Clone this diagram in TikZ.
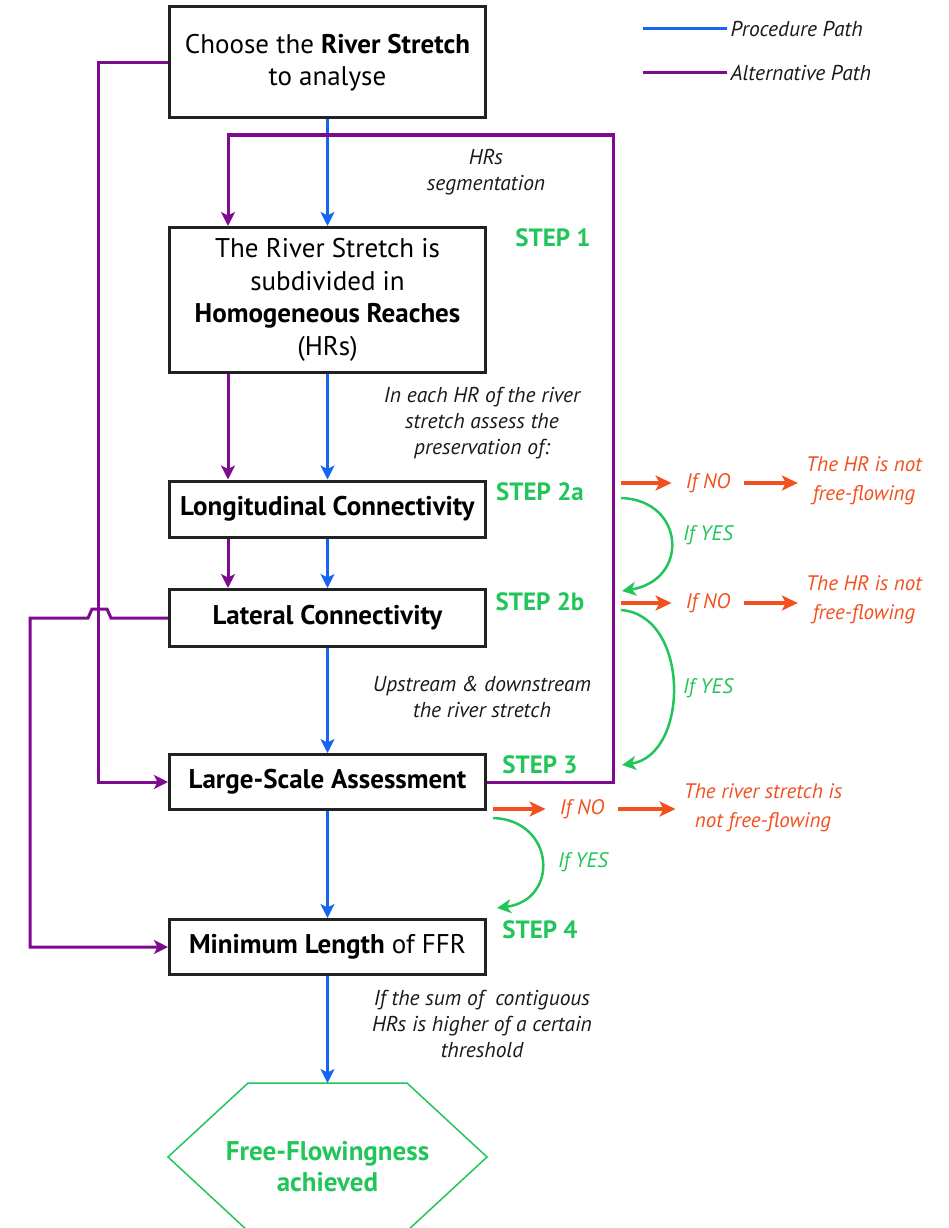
\documentclass[tikz,border=0pt]{standalone}
\usepackage{fontspec}
\setmainfont{PT Sans}
\usetikzlibrary{calc,positioning,arrows.meta}
\definecolor{procblue}{HTML}{1466F0}
\definecolor{altpurple}{HTML}{7D0A8F}
\definecolor{stepgreen}{HTML}{22C55A}
\definecolor{nored}{HTML}{F2501E}
\definecolor{boxgray}{HTML}{222222}
\definecolor{annotgray}{HTML}{1A1A1A}

\begin{document}
\begin{tikzpicture}[x=1pt, y=-1pt,
    stage/.style={draw=boxgray, line width=3pt, minimum width=316pt, align=center, inner sep=0pt,
      font=\fontsize{27}{32.5}\selectfont},
    proc/.style={draw=procblue, line width=3pt, -{Stealth[length=14pt,width=14pt,inset=3.5pt]}},
    alt/.style={draw=altpurple, line width=3pt, -{Stealth[length=14pt,width=14pt,inset=3.5pt]}},
    yes/.style={draw=stepgreen, line width=2.5pt, -{Stealth[length=14pt,width=14pt,inset=4pt]}},
    no/.style={draw=nored, line width=3.5pt, -{Stealth[length=16pt,width=15pt,inset=4pt]}},
    annot/.style={align=center, text=annotgray, font=\itshape\fontsize{21.5}{26}\selectfont},
    steplabel/.style={text=stepgreen, font=\bfseries\fontsize{25}{28}\selectfont},
    yeslabel/.style={text=stepgreen, font=\itshape\fontsize{21}{26}\selectfont},
    nolabel/.style={text=nored, inner xsep=14pt, font=\itshape\fontsize{21}{26}\selectfont},
    result/.style={text=nored, align=center, inner xsep=8pt, font=\itshape\fontsize{21}{29}\selectfont}]
\useasboundingbox (0,0) rectangle (949,1228);

\node[stage, minimum height=111pt] (choose) at (327.5,62.5) {Choose the \textbf{River Stretch}\\to analyse};
\node[stage, minimum height=145pt] (subdiv) at (327.5,300) {The River Stretch is\\subdivided in\\\textbf{Homogeneous Reaches}\\(HRs)};
\node[stage, minimum height=56pt] (longit) at (327.5,509) {\textbf{Longitudinal Connectivity}};
\node[stage, minimum height=57pt] (lateral) at (327.5,618) {\textbf{Lateral Connectivity}};
\node[stage, minimum height=55pt] (largescale) at (327.5,782) {\textbf{Large-Scale Assessment}};
\node[stage, minimum height=55pt] (minlen) at (327.5,947) {\textbf{Minimum Length} of FFR};

\coordinate (hextop) at (327.5,1083);
\draw[stepgreen, line width=1.5pt] (248,1083) -- (407,1083) -- (487,1157) -- (407,1231) -- (248,1231) -- (168,1157) -- cycle;
\node[text=stepgreen, align=center, font=\bfseries\fontsize{27}{31}\selectfont] (ffa) at (327.5,1167) {Free-Flowingness\\achieved};

\node[annot] (hrseg) at (486,172) {HRs\\segmentation};
\node[annot] (assess) at (482,423) {In each HR of the river\\stretch assess the\\preservation of:};
\node[annot] (updown) at (482,697) {Upstream \& downstream\\the river stretch};
\node[annot] (sumhr) at (482,1024) {If the sum of \ contiguous\\HRs is higher of a certain\\threshold};

\node[steplabel] (step1) at (553,238) {STEP 1};
\node[steplabel] (step2a) at (540,492) {STEP 2a};
\node[steplabel] (step2b) at (540,602) {STEP 2b};
\node[steplabel] (step3) at (540,765) {STEP 3};
\node[steplabel] (step4) at (540,930) {STEP 4};

\draw[proc] (choose) -- (subdiv);
\draw[proc] (subdiv) -- (longit);
\draw[proc] (longit) -- (lateral);
\draw[proc] (lateral) -- (largescale);
\draw[proc] (largescale) -- (minlen);
\draw[proc] (minlen) -- (hextop);

\coordinate (altlane) at (228,0);
\coordinate (looptop) at (613,135);
\draw[alt] (largescale.east) -| (looptop) -| (subdiv.north -| altlane);
\draw[alt] (subdiv.south -| altlane) -- (longit.north -| altlane);
\draw[alt] (longit.south -| altlane) -- (lateral.north -| altlane);
\draw[alt] (choose.west) -- ++(-70,0) |- (largescale.west);
\draw[alt] (lateral.west) -- (111,618) -- (107,609) -- (92,609) -- (88,618) -- (30,618) |- (minlen.west);

\coordinate (out2a) at (621,483);
\coordinate (out2b) at (621,603);
\coordinate (out3) at (493,809);
\node[nolabel] (ifno2a) at (708,483) {If NO};
\node[nolabel] (ifno2b) at (708,603) {If NO};
\node[nolabel] (ifno3) at (582,809) {If NO};
\node[result] (notfree2a) at (864,481) {The HR is not\\free-flowing};
\node[result] (notfree2b) at (864,600) {The HR is not\\free-flowing};
\node[result] (notfree3) at (763,808) {The river stretch is\\not free-flowing};
\draw[no] (out2a) -- (ifno2a);
\draw[no] (ifno2a) -- (notfree2a.west |- ifno2a);
\draw[no] (out2b) -- (ifno2b);
\draw[no] (ifno2b) -- (notfree2b.west |- ifno2b);
\draw[no] (out3) -- (ifno3);
\draw[no] (ifno3) -- (notfree3.west |- ifno3);

\coordinate (yes2a) at (621,498);
\coordinate (in2b) at (622,591);
\coordinate (yes2b) at (621,610);
\coordinate (in3) at (622,765);
\coordinate (yes3) at (493,818);
\coordinate (in4) at (497,908);
\draw[yes] (yes2a) .. controls (685,500) and (690,580) .. (in2b);
\draw[yes] (yes2b) .. controls (690,615) and (690,755) .. (in3);
\draw[yes] (yes3) .. controls (555,820) and (560,900) .. (in4);
\node[yeslabel] (ifyes2a) at (708,535) {If YES};
\node[yeslabel] (ifyes2b) at (708,688) {If YES};
\node[yeslabel] (ifyes3) at (583,862) {If YES};

\node[annot, anchor=west] (proclegend) at (727,29) {Procedure Path};
\node[annot, anchor=west] (altlegend) at (727,73) {Alternative Path};
\coordinate (procstart) at (643,29);
\coordinate (altstart) at (643,73);
\draw[procblue, line width=3pt] (procstart) -- (proclegend.west);
\draw[altpurple, line width=3pt] (altstart) -- (altlegend.west);
\end{tikzpicture}
\end{document}
